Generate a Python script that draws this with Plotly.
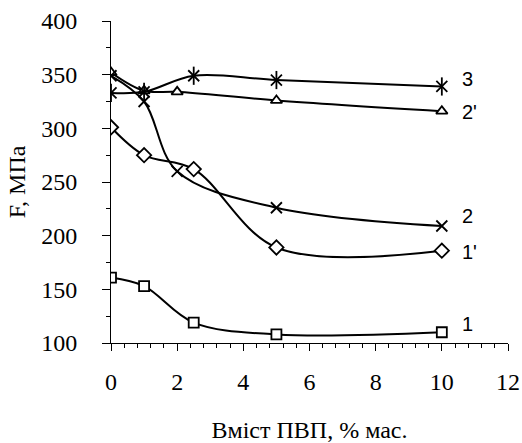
import plotly.graph_objects as go

# ---- data ----
x_1 = [0, 1, 2.5, 5, 10]
y_1 = [161, 153, 119, 108, 110]

x_1p = [0, 1, 2.5, 5, 10]
y_1p = [301, 275, 262, 189, 186]

x_2 = [0, 1, 2, 5, 10]
y_2 = [349, 325, 260, 226, 209]

x_2p = [0, 1, 2, 5, 10]
y_2p = [352, 335, 334, 326, 316]

x_3 = [0, 1, 2.5, 5, 10]
y_3 = [333, 334, 349, 345, 339]

series_labels = ["3", "2'", "2", "1'", "1"]
label_y = [346, 315, 218, 185, 118]
label_x = 10.55

x_ticks = [0, 2, 4, 6, 8, 10, 12]
y_ticks = [100, 150, 200, 250, 300, 350, 400]

SERIF = "Liberation Serif"
SANS = "Liberation Sans"

fig = go.Figure()

line_style = dict(color="black", width=2, shape="spline", smoothing=1.0)

def add_series(x, y, symbol, size, filled=True):
    if filled:
        marker = dict(symbol=symbol, size=size, color="white",
                      line=dict(color="black", width=1.8))
    else:
        marker = dict(symbol=symbol, size=size, color="black",
                      line=dict(color="black", width=1.8))
    fig.add_trace(go.Scatter(x=x, y=y, mode="lines+markers",
                             line=line_style, marker=marker,
                             showlegend=False, hoverinfo="skip"))

add_series(x_1, y_1, "square", 10)
add_series(x_1p, y_1p, "diamond", 11)
add_series(x_2p, y_2p, "triangle-up", 10)
add_series(x_2, y_2, "x-thin-open", 11, filled=False)
add_series(x_3, y_3, "x-thin-open", 11, filled=False)
fig.add_trace(go.Scatter(x=x_3, y=y_3, mode="markers",
                         marker=dict(symbol="line-ns-open", size=13, color="black",
                                     line=dict(color="black", width=1.8)),
                         showlegend=False, hoverinfo="skip"))

for lab, ly in zip(series_labels, label_y):
    fig.add_annotation(x=label_x, y=ly, text=lab, showarrow=False,
                       xanchor="left", yanchor="middle",
                       font=dict(family=SANS, size=20, color="black"))

fig.update_layout(
    width=522, height=443,
    margin=dict(l=111, r=14, t=21, b=100, autoexpand=False),
    paper_bgcolor="white", plot_bgcolor="white",
    font=dict(family=SERIF, size=24, color="black"),
)

fig.update_xaxes(
    range=[0, 12], tickvals=x_ticks, ticktext=[str(v) for v in x_ticks],
    showgrid=False, zeroline=False, showline=True, linecolor="black", linewidth=1,
    ticks="outside", ticklen=7, tickwidth=1, tickcolor="black",
    minor=dict(dtick=0.4, ticks="outside", ticklen=4, tickcolor="black", tickwidth=1),
    title=dict(text="Вміст ПВП, % мас.", font=dict(family=SERIF, size=24, color="black"), standoff=29),
    tickfont=dict(family=SERIF, size=24, color="black"), ticklabelstandoff=10,
    automargin=False,
)
fig.update_yaxes(
    range=[100, 400], tickvals=y_ticks, ticktext=[str(v) for v in y_ticks],
    showgrid=False, zeroline=False, showline=True, linecolor="black", linewidth=1,
    ticks="outside", ticklen=8, tickwidth=1, tickcolor="black",
    minor=dict(dtick=25, ticks="outside", ticklen=4, tickcolor="black", tickwidth=1),
    title=dict(text="F, МПа", font=dict(family=SERIF, size=24, color="black"), standoff=8),
    tickfont=dict(family=SERIF, size=24, color="black"), ticklabelstandoff=20,
    automargin=False,
)

fig.write_html("out.html", config={"displayModeBar": False},
               post_script="document.body.style.margin='0';")
